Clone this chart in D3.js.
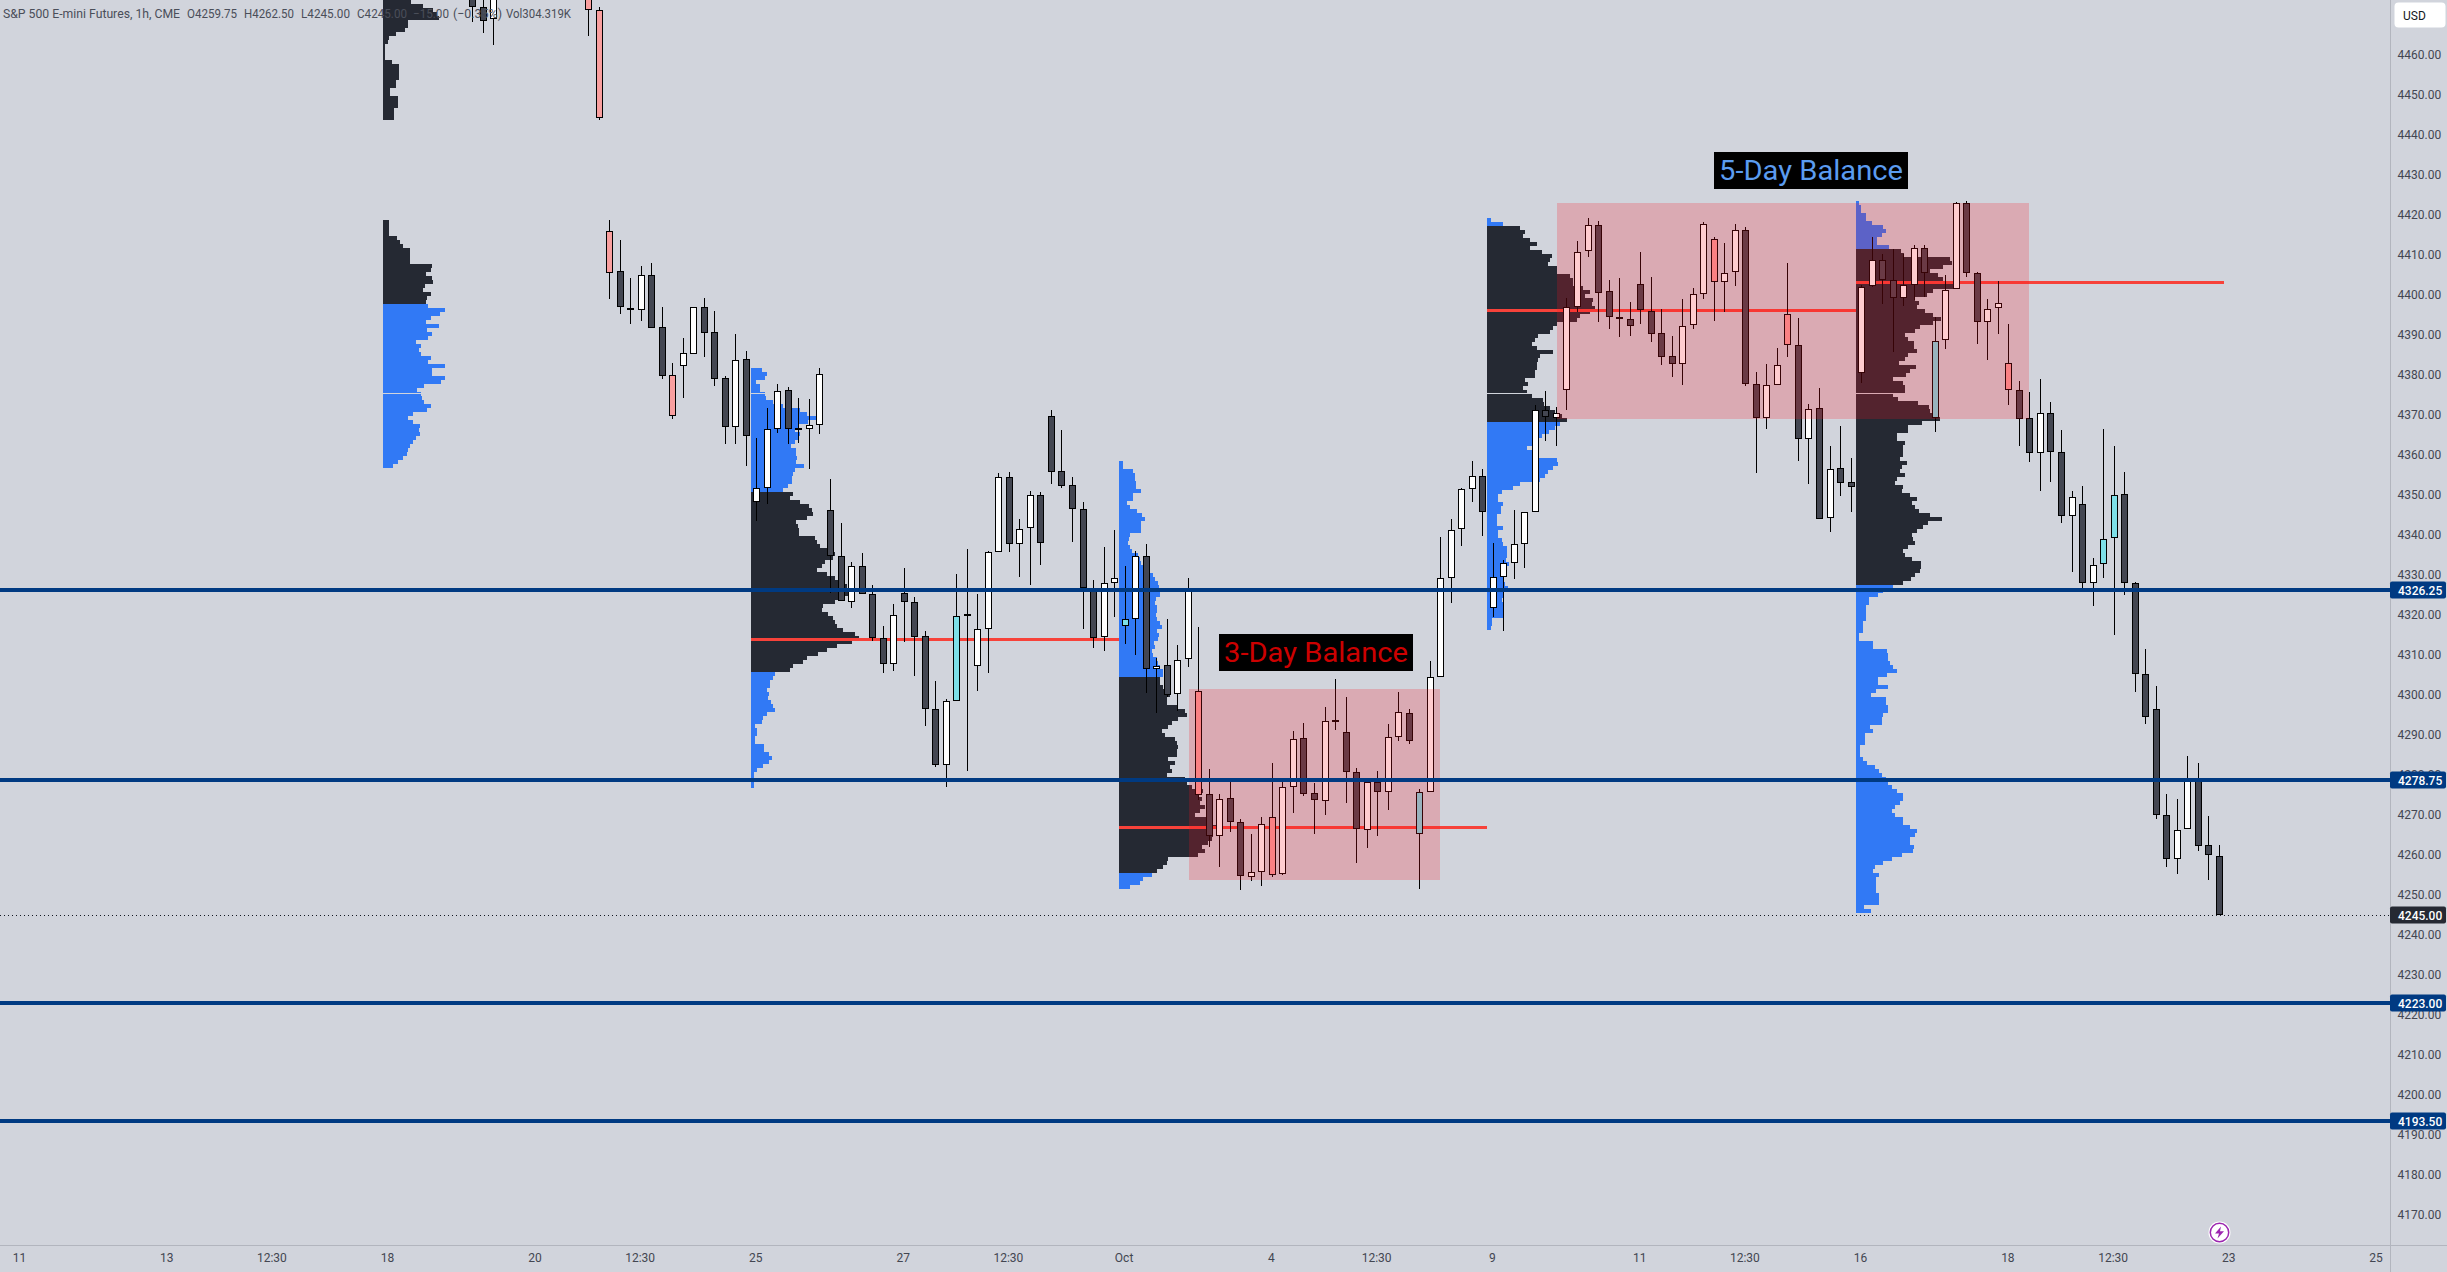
<!DOCTYPE html>
<html><head><meta charset="utf-8">
<style>html,body{margin:0;padding:0;background:#d1d4dc;overflow:hidden}svg{display:block}
text{font-family:Roboto,sans-serif}</style>
<script src="https://cdn.jsdelivr.net/npm/d3@7"></script></head><body>
<svg id="c" width="2447" height="1272"></svg>
<script>
const barIndex=[-24,-23,-22].concat(d3.range(-13,143));
const barKind=("d d u p p p d d u d d p u u d d "+
"d u d u u u d d u u d d u d d d u d d d d u c d u u u d u u d d d d d d u u c u "+
"d u d u u p d u d d u u p u u d d u d d d u d u u d c u u u u u d u u u u u d u "+
"u u u d d d d d d d d u u u p u u d d u u p d u d u d d u u d d u u d c u u d d "+
"u u p d d u d d u d u c c d d d d d u u d d d").trim().split(" ");
const bodyHigh=[4480,4471.92,4480,4480,4471.17,4415.92,4405.92,4396.67,4404.92,4404.92,4391.92,4379.92,4385.42,4396.92,4396.92,4390.67,
4379.17,4383.67,4383.92,4351.67,4366.42,4375.92,4376.17,4366.67,4367.42,4380.17,
4346.17,4334.67,4332.17,4332.17,4325.17,4314.17,4319.92,4325.42,4323.17,4314.67,
4296.42,4298.42,4319.67,4320.17,4316.42,4335.67,4354.42,4354.42,4341.42,4349.92,
4349.92,4369.67,4355.92,4352.42,4346.42,4326.67,4327.92,4329.17,4318.92,4334.67,
4334.67,4307.17,4307.42,4308.67,4326.67,4300.92,4275.17,4273.92,4274.17,4268.17,
4255.67,4267.67,4269.42,4276.92,4288.92,4289.17,4275.42,4293.42,4293.75,4290.67,
4280.67,4278.17,4278.17,4289.42,4295.67,4295.42,4275.67,4304.42,4329.17,4341.17,
4351.42,4354.67,4354.67,4329.42,4332.92,4337.67,4345.67,4371.17,4371.17,4370.42,
4396.92,4410.67,4417.42,4417.42,4400.92,4394.42,4393.92,4402.67,4395.92,4390.42,
4384.67,4392.17,4400.17,4417.67,4413.92,4405.42,4416.17,4416.17,4377.67,4377.42,
4382.42,4395.17,4387.42,4371.42,4371.67,4356.42,4356.67,4353.17,4401.92,4408.67,
4408.67,4403.67,4402.42,4411.67,4411.67,4388.42,4401.17,4422.92,4422.92,4405.42,
4396.42,4397.92,4382.92,4376.17,4369.17,4370.42,4370.42,4360.67,4349.42,4347.67,
4332.42,4338.92,4349.92,4350.17,4327.95,4305.13,4296.42,4269.92,4266.17,4278.5,
4278.75,4262.42,4259.75];
const bodyLow=[4472,4468.58,4468.92,4471.17,4444.33,4405.58,4396.92,4396.33,4396.33,4391.83,4379.83,4369.83,4382.33,4385.33,4390.42,4379.08,
4367.08,4367.08,4364.83,4348.17,4351.67,4366.42,4366.42,4366.33,4366.42,4367.42,
4334.67,4323.42,4323.17,4325.17,4314.17,4307.67,4307.67,4323.17,4314.42,4296.42,
4282.42,4282.42,4298.42,4319.83,4307.17,4316.42,4335.67,4337.67,4337.67,4341.67,
4337.92,4355.67,4352.17,4346.42,4326.67,4314.17,4314.42,4327.92,4317.17,4318.92,
4306.42,4306.42,4299.92,4300.17,4308.92,4274.92,4264.83,4264.67,4268.17,4254.67,
4254.42,4255.67,4254.92,4255.17,4276.92,4275.17,4273.67,4273.42,4293.5,4280.67,
4266.42,4266.17,4275.67,4275.67,4289.42,4288.42,4265.17,4275.67,4304.42,4329.17,
4341.42,4351.42,4345.67,4321.67,4329.42,4332.92,4337.67,4345.67,4369.42,4369.17,
4376.17,4396.92,4410.92,4400.58,4394.42,4393.92,4392.17,4396.17,4390.17,4384.42,
4382.67,4382.67,4392.42,4400.17,4403.17,4403.17,4405.67,4377.67,4369.17,4369.17,
4377.42,4387.42,4363.92,4363.92,4343.92,4344.17,4352.92,4351.92,4380.42,4402.17,
4403.67,4399.17,4399.17,4402.42,4405.42,4369.17,4388.67,4401.42,4405.42,4393.17,
4393.17,4396.67,4376.17,4369.08,4360.42,4360.42,4360.67,4344.67,4344.67,4327.92,
4327.92,4332.67,4339.17,4327.92,4305.13,4294.45,4269.92,4258.92,4258.92,4266.42,
4262.17,4259.92,4245];
const wickHigh=[4485,4478,4485,4482,4471.92,4418.75,4413.75,4404.25,4407.25,4408,4397,4382.92,4389.25,4396.92,4399.17,4396,
4379.75,4390.25,4386,4364.17,4371.67,4377.67,4376.92,4374.17,4373.92,4381.67,
4353.92,4343,4333.17,4335.42,4327.42,4317.25,4322.67,4331.67,4324.42,4315.92,
4303.5,4298.92,4330.17,4336.42,4325.17,4335.92,4355.42,4355.67,4343.92,4350.92,
4350.67,4371.17,4366.17,4354.42,4348.17,4328.75,4336.92,4341.17,4332.17,4335.92,
4337.67,4309.17,4318.92,4312.42,4329.17,4317,4281.42,4275.17,4278.25,4268.92,
4265.17,4269.42,4283,4278.25,4290.92,4292.92,4277.92,4296.92,4303.92,4299.42,
4281.67,4278.17,4280.92,4292.67,4300.67,4296.42,4276.42,4308.42,4339.42,4343.92,
4351.67,4358.42,4356.42,4337.92,4333.67,4346.25,4345.67,4372.42,4375.92,4371.92,
4399.17,4413.42,4419.17,4418.42,4403.67,4404.17,4398.17,4410.67,4404.42,4396.42,
4389.67,4398.92,4401.67,4418.17,4414.42,4412.92,4417.67,4416.92,4380.67,4382.67,
4386.67,4407.92,4394.17,4372.67,4376.67,4362.17,4367.17,4359.17,4402.42,4414.42,
4410.17,4411.42,4410.17,4412.42,4412.42,4394.42,4404.92,4423.25,4423.42,4405.67,
4398.92,4403.42,4392.67,4378.42,4375.67,4378.92,4373.17,4366.17,4350.92,4352.17,
4334.17,4366.42,4362.17,4355.67,4328.29,4311.42,4302.28,4275.17,4273.92,4284.67,
4282.92,4269.67,4262.5];
const wickLow=[4468.25,4465.58,4462.58,4464.83,4443.83,4399.08,4395.33,4392.83,4393.58,4391.83,4379.08,4369.08,4374.33,4385.33,4384.5,4377.33,
4362.75,4362.75,4357.25,4343.5,4347.83,4365.58,4362.83,4362.92,4356.58,4365.33,
4325.42,4323.42,4321.83,4325.17,4313.58,4305.58,4306.08,4313.33,4304.83,4292.33,
4282.08,4277.08,4298.42,4281.08,4301.08,4305.58,4335.67,4335.83,4329.58,4327.58,
4332.58,4352.83,4351.67,4338.33,4316.58,4311.83,4311.08,4319.58,4312.83,4310.08,
4300.58,4295.58,4299.42,4296.08,4307.08,4273.75,4262.08,4257.08,4265.83,4251.33,
4253.58,4252.33,4254.42,4254.92,4270.58,4274.83,4265.33,4270.08,4291.25,4273.08,
4258.08,4261.83,4264.83,4271.33,4288.58,4287.83,4251.58,4275.67,4304.42,4323.08,
4337.33,4348.25,4339.83,4319.42,4316.08,4329.08,4331.83,4345.67,4363.58,4362.33,
4371.33,4395.67,4409.42,4393.33,4391.58,4389.58,4389.83,4392.83,4388.33,4382.58,
4379.58,4377.58,4391.58,4399.08,4393.58,4395.83,4402.33,4377.17,4355.58,4366.58,
4377.42,4384.58,4358.58,4352.83,4343.92,4340.83,4349.83,4345.83,4378,4401.92,
4397.75,4385.75,4397.25,4398.67,4399.58,4365.83,4386.5,4401.42,4404.58,4387.75,
4383.75,4390.25,4372.5,4362.25,4358.25,4351,4353.25,4343,4330.75,4326.67,
4322.33,4329.33,4315,4325.08,4300.83,4292.73,4268.92,4257.08,4255.33,4266.42,
4261.08,4253.83,4245];

const priceTicks=d3.range(4170,4461,10);
const levelPrices=[4326.25,4278.75,4223,4193.5];
const lastPrice=4245;
const timeTickBars=[-67,-53,-43,-32,-18,-8,3,17,27,38,52,62,73,87,97,108,122,132,143,157];
const timeTickLabels=["11","13","12:30","18","20","12:30","25","27","12:30","Oct","4","12:30","9","11","12:30","16","18","12:30","23","25"];

const pocSegments=[[2.44,37.43,4313.9],[37.43,72.4,4267],[72.4,107.5,4396.17],[107.5,142.45,4403.17]];
const balanceBars=[[44.08,67.94,4301.5,4253.75],[79.06,123.9,4423,4369]];
const printGapPrice=4375.5;

const volA=[28,40,50,54,56,25,25,22,13,6,5,2,2,2,2,9,16,16,16,16,13,13,7,7,15,15,15,11,11,11];
const volB=[6,6,6,6,14,17,20,27,27,27,27,49,48,43,49,50,42,40,48,44,43,45,62,57,48,43,56,44,49,45,33,38,36,38,48,45,62,49,49,62,58,41,34,38,39,41,48,44,30,25,30,37,36,37,33,30,27,25,24,20,15,10];
const volC=[11,16,14,5,9,9,14,15,22,32,49,56,65,57,48,44,49,48,44,40,45,45,46,45,53,44,42,41,41,37,32,42,39,49,58,61,62,56,45,47,48,48,64,66,69,79,84,82,74,71,66,76,84,92,96,97,97,92,84,72,71,77,82,84,86,92,104,108,101,86,76,67,56,52,42,39,24,22,19,19,16,18,17,20,22,24,16,12,11,4,6,6,4,4,13,13,18,21,18,12,6,3,3,3,3];
const volD=[4,4,14,16,16,17,17,22,14,14,8,11,18,23,26,22,22,22,11,10,9,11,13,19,21,22,29,31,34,36,39,40,41,41,37,36,38,38,37,38,41,43,38,40,39,35,36,33,34,38,39,41,44,44,41,41,44,46,51,48,48,58,66,68,59,53,49,43,46,56,58,59,58,58,49,56,51,53,48,66,68,73,84,80,83,81,86,81,76,88,94,103,94,94,93,89,83,86,79,49,48,44,38,33,24,21,11];
const volE=[4,16,33,38,36,43,50,43,55,65,63,61,70,70,83,86,86,96,103,98,106,105,108,103,93,90,70,66,63,51,48,45,50,66,53,51,50,50,48,48,38,41,36,40,45,56,57,63,68,75,80,73,68,62,55,46,45,40,45,46,70,71,66,61,58,53,33,26,15,11,11,16,14,14,10,10,10,16,11,11,15,16,20,20,20,19,22,20,18,16,16,18,21,16,16,15,16,16,16,16,5,5,4];
const volF=[3,5,5,10,10,16,27,30,26,21,21,33,45,48,94,96,87,74,82,87,104,97,77,71,59,63,61,69,77,85,77,64,59,49,52,58,58,61,52,49,43,60,54,50,37,47,49,49,37,42,62,73,74,77,84,66,52,52,41,41,49,47,47,47,44,51,46,44,49,41,39,47,46,54,61,56,59,63,74,86,72,67,61,56,57,59,52,47,49,56,65,65,64,59,55,47,37,27,22,13,13,10,10,10,10,7,7,7,3,3,17,17,31,32,32,34,37,41,31,22,22,32,20,15,30,30,32,32,27,26,26,14,17,9,9,9,4,4,4,7,11,19,23,26,30,32,36,41,47,47,44,39,36,39,47,47,54,61,59,54,54,58,57,46,36,27,19,17,23,20,20,20,20,23,23,23,8,15];

const y=d3.scaleLinear().domain([4326.25,4245]).range([590,915]);
const x=d3.scaleLinear().domain([0,142]).range([725.3,2219.3]);
const vol=d3.scaleLinear().domain([0,100]).range([0,100]);

const profiles=[
 {bar:-32.53,top:4473.75,vols:volA,vaHigh:9999,vaLow:0},
 {bar:-32.53,top:4418.75,vols:volB,vaHigh:9999,vaLow:4397.5},
 {bar:2.44,top:4381.75,vols:volC,vaHigh:4350.75,vaLow:4305.75},
 {bar:37.43,top:4358.5,vols:volD,vaHigh:4304,vaLow:4255.75},
 {bar:72.4,top:4419.25,vols:volE,vaHigh:4417.25,vaLow:4368.25},
 {bar:107.5,top:4423.5,vols:volF,vaHigh:4411.75,vaLow:4327.75}
];
const svg=d3.select("#c");
const bg="#d1d4dc",dark="#252933",blue="#3179f5",lvl="#003a82";
const gProf=svg.append("g").attr("shape-rendering","crispEdges");
profiles.forEach(p=>{
  const px=Math.round(x(p.bar));
  const rows=p.vols.map((v,i)=>({v,top:p.top-i,bot:p.top-i-1}));
  gProf.append("g").selectAll("rect").data(rows).join("rect")
   .attr("x",px).attr("y",d=>Math.round(y(d.top)))
   .attr("width",d=>vol(d.v)).attr("height",d=>Math.round(y(d.bot))-Math.round(y(d.top)))
   .attr("fill",d=>{const m=(d.top+d.bot)/2;return (m<=p.vaHigh&&m>=p.vaLow)?dark:blue;});
  const g=rows.find(d=>d.top>=printGapPrice&&d.bot<printGapPrice);
  if(g) gProf.append("rect").attr("x",px).attr("y",Math.round(y(printGapPrice))).attr("width",vol(g.v)).attr("height",1).attr("fill",bg);
});
const gPoc=svg.append("g").attr("shape-rendering","crispEdges");
gPoc.selectAll("rect").data(pocSegments).join("rect")
 .attr("x",d=>Math.round(x(d[0]))).attr("width",d=>Math.round(x(d[1]))-Math.round(x(d[0])))
 .attr("y",d=>Math.round(y(d[2]))-1.5).attr("height",3).attr("fill","#f7423a");

const fills={u:"#ffffff",d:"#434651",p:"#f99f9f",c:"#7ddfe8"};
const gC=svg.append("g").attr("shape-rendering","crispEdges");
const bars=barIndex.map((b,i)=>({b,k:barKind[i],bh:bodyHigh[i],bl:bodyLow[i],wh:wickHigh[i],wl:wickLow[i]}));
gC.selectAll("rect.w").data(bars).join("rect").attr("class","w")
 .attr("x",d=>Math.floor(x(d.b))).attr("width",1)
 .attr("y",d=>Math.round(y(d.wh))).attr("height",d=>Math.round(y(d.wl))-Math.round(y(d.wh)))
 .attr("fill","#000");
gC.selectAll("rect.b").data(bars).join("rect").attr("class","b")
 .attr("x",d=>Math.floor(x(d.b))-2.5).attr("width",6)
 .attr("y",d=>Math.round(y(d.bh))+.5)
 .attr("height",d=>Math.max(Math.round(y(d.bl))-Math.round(y(d.bh))-1,0.5))
 .attr("fill",d=>fills[d.k]).attr("stroke","#000").attr("stroke-width",1);

svg.append("g").attr("shape-rendering","crispEdges").selectAll("rect").data(balanceBars).join("rect")
 .attr("x",d=>Math.round(x(d[0]))).attr("width",d=>Math.round(x(d[1]))-Math.round(x(d[0])))
 .attr("y",d=>Math.round(y(d[2]))).attr("height",d=>Math.round(y(d[3]))-Math.round(y(d[2])))
 .attr("fill","rgba(255,12,30,0.21)");

svg.append("line").attr("x1",0).attr("x2",2390).attr("y1",y(lastPrice)+.5).attr("y2",y(lastPrice)+.5)
 .attr("stroke","#131722").attr("stroke-dasharray","1 3");
svg.append("g").attr("shape-rendering","crispEdges").selectAll("rect").data(levelPrices).join("rect")
 .attr("x",0).attr("width",2390).attr("y",d=>Math.round(y(d))-2).attr("height",4).attr("fill",lvl);

// axes
const yAxis=d3.axisRight(y).tickValues(priceTicks).tickSize(0).tickPadding(7.5).tickFormat(d=>d3.format(".2f")(d));
const gy=svg.append("g").attr("transform","translate(2390,0)").call(yAxis);
gy.select(".domain").remove();
gy.selectAll("text").attr("fill","#434651").attr("font-size",12).attr("font-family","Roboto");
const xAxis=d3.axisBottom(x).tickValues(timeTickBars).tickSize(0).tickPadding(8).tickFormat(d=>timeTickLabels[timeTickBars.indexOf(d)]);
const gx=svg.append("g").attr("transform","translate(-1.5,1245)").call(xAxis);
gx.select(".domain").remove();
gx.selectAll("text").attr("fill","#434651").attr("font-size",12).attr("font-family","Roboto");
svg.append("rect").attr("x",2390).attr("y",0).attr("width",1).attr("height",1272).attr("fill","#b2b5be");
svg.append("rect").attr("x",0).attr("y",1245).attr("width",2447).attr("height",1).attr("fill","#b2b5be");

// price tags
const tags=levelPrices.map(p=>({p,c:lvl})).concat([{p:lastPrice,c:dark}]);
const gt=svg.append("g");
gt.selectAll("rect").data(tags).join("rect").attr("x",2390).attr("width",56).attr("y",d=>Math.round(y(d.p))-8.5).attr("height",17).attr("rx",2).attr("fill",d=>d.c);
gt.selectAll("text").data(tags).join("text").attr("x",2398).attr("y",d=>y(d.p)+4.5).attr("fill","#fff").attr("font-size",12).attr("font-weight",500).text(d=>d3.format(".2f")(d.p));

svg.append("rect").attr("x",2394.5).attr("y",2.5).attr("width",51).attr("height",25).attr("rx",4).attr("fill","#fff");
svg.append("text").attr("x",2403).attr("y",19.5).attr("font-size",12).attr("fill","#131722").text("USD");

// legend
const legendText=["S&P 500 E-mini Futures, 1h, CME","O4259.75","H4262.50","L4245.00","C4245.00","\u221215.00","(\u22120.35%)","Vol304.319K"];
const legendStart=[3,187,244,301,357,413,453,506];
const legendLen=[177,50,50,49,50,36,49,65];
svg.append("g").selectAll("text").data(legendText).join("text")
 .attr("x",(d,i)=>legendStart[i]).attr("y",18).attr("font-size",13).attr("fill","#4a4e59")
 .attr("textLength",(d,i)=>legendLen[i]).attr("lengthAdjust","spacingAndGlyphs").text(d=>d);

// annotations
const notes=[{x:1219,y:634,w:194,h:37,t:"3-Day Balance",c:"#cc0000"},{x:1714,y:152,w:194,h:37,t:"5-Day Balance",c:"#5b9cf0"}];
const gn=svg.append("g");
gn.selectAll("rect").data(notes).join("rect").attr("x",d=>d.x).attr("y",d=>d.y).attr("width",d=>d.w).attr("height",d=>d.h).attr("fill","#000");
gn.selectAll("text").data(notes).join("text").attr("x",d=>d.x+d.w/2).attr("y",d=>d.y+28).attr("text-anchor","middle")
 .attr("font-size",27).attr("font-family","'DejaVu Sans'").attr("fill",d=>d.c)
 .attr("textLength",184).attr("lengthAdjust","spacingAndGlyphs").text(d=>d.t);

// bolt icon
const ic=svg.append("g").attr("transform","translate(2219.5,1232.5)");
ic.append("circle").attr("r",11).attr("fill","#fff");
ic.append("circle").attr("r",9.2).attr("fill","none").attr("stroke","#9c27b0").attr("stroke-width",1.5);
ic.append("path").attr("d","M1.5,-6 L-4.5,1 L-0.5,1 L-2,6 L4.5,-1.2 L0.5,-1.2 Z").attr("fill","#9c27b0");
</script></body></html>
